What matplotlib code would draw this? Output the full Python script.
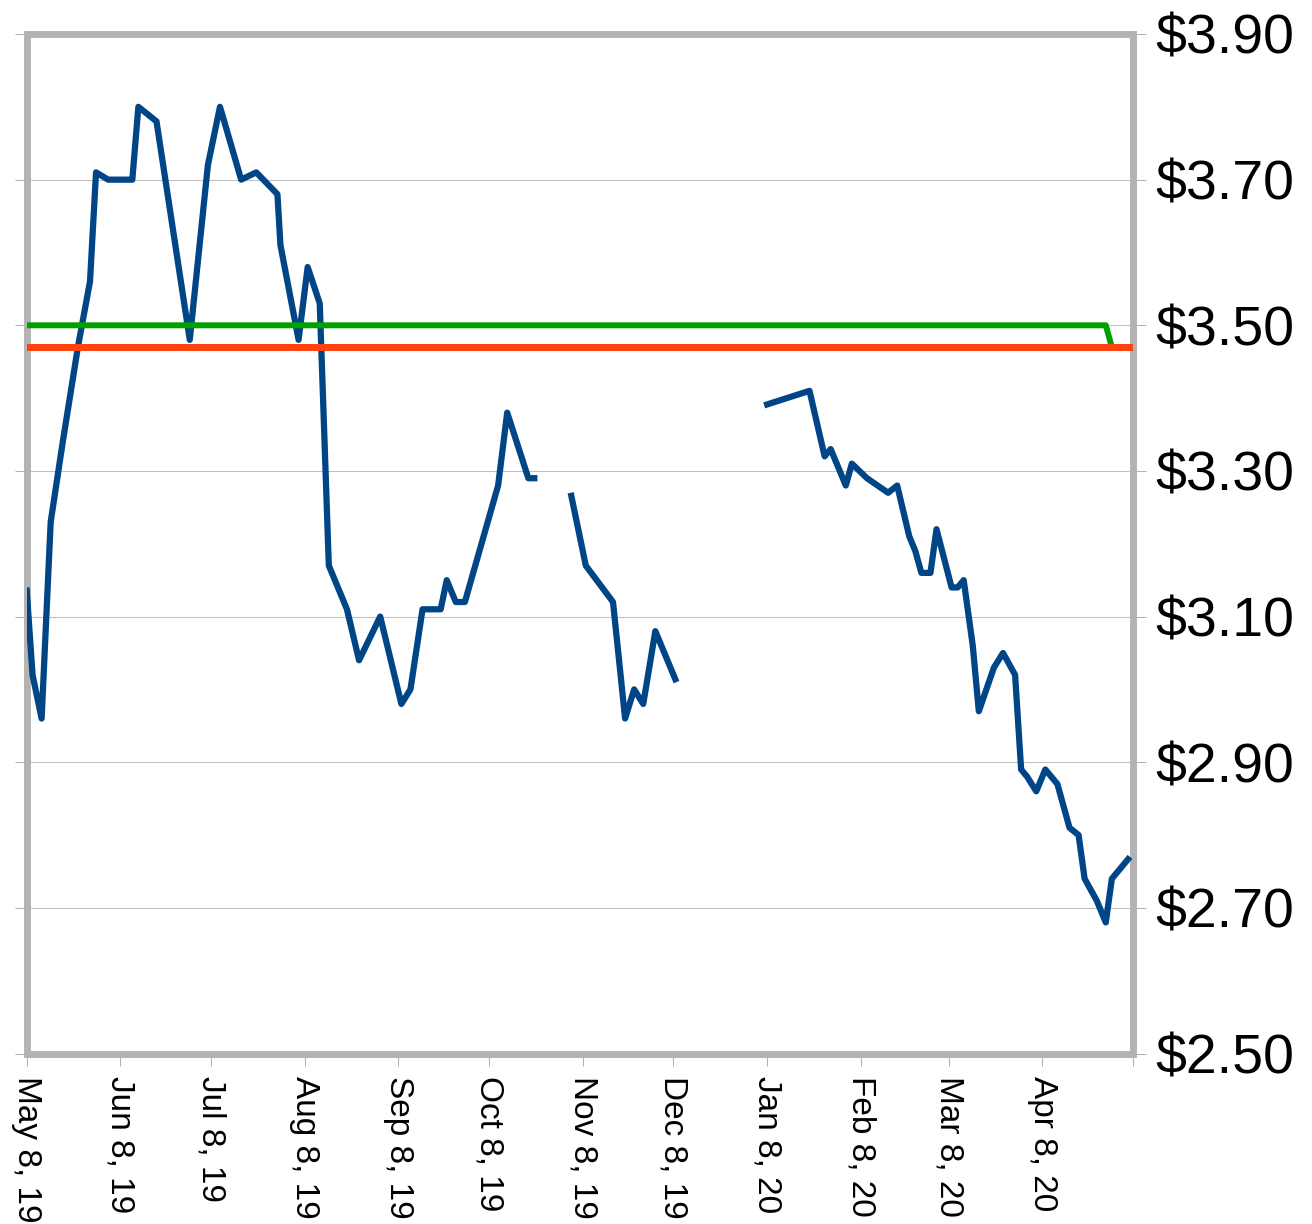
import matplotlib
matplotlib.use("Agg")
import matplotlib.pyplot as plt
from matplotlib.patches import Rectangle
import numpy as np
import pandas as pd

plt.rcParams['font.family'] = ['Liberation Sans', 'DejaVu Sans']

# ---------------- data ----------------
price_dates = [
    "2019-05-08", "2019-05-10", "2019-05-13", "2019-05-16", "2019-05-20", "2019-05-25",
    "2019-05-29", "2019-05-31", "2019-06-04", "2019-06-12", "2019-06-14", "2019-06-20",
    "2019-07-01", "2019-07-07", "2019-07-11", "2019-07-18", "2019-07-23", "2019-07-30",
    "2019-07-31", "2019-08-06", "2019-08-09", "2019-08-13", "2019-08-16", "2019-08-22",
    "2019-08-26", "2019-09-02", "2019-09-09", "2019-09-12", "2019-09-16", "2019-09-22",
    "2019-09-24", "2019-09-27", "2019-09-30", "2019-10-11", "2019-10-14", "2019-10-21",
    "2019-10-24", "2019-10-29", "2019-11-04", "2019-11-09", "2019-11-18", "2019-11-22",
    "2019-11-25", "2019-11-28", "2019-12-02", "2019-12-09", "2019-12-20", "2020-01-07",
    "2020-01-22", "2020-01-27", "2020-01-29", "2020-02-03", "2020-02-05", "2020-02-10",
    "2020-02-17", "2020-02-20", "2020-02-24", "2020-02-26", "2020-02-28", "2020-03-02",
    "2020-03-04", "2020-03-09", "2020-03-11", "2020-03-13", "2020-03-16", "2020-03-18",
    "2020-03-23", "2020-03-26", "2020-03-30", "2020-04-01", "2020-04-03", "2020-04-06",
    "2020-04-09", "2020-04-13", "2020-04-17", "2020-04-20", "2020-04-22", "2020-04-26",
    "2020-04-29", "2020-05-01", "2020-05-07",
]
price_values = [
    3.14, 3.02, 2.96, 3.23, 3.34, 3.47,
    3.56, 3.71, 3.70, 3.70, 3.80, 3.78,
    3.48, 3.72, 3.80, 3.70, 3.71, 3.68,
    3.61, 3.48, 3.58, 3.53, 3.17, 3.11,
    3.04, 3.10, 2.98, 3.00, 3.11, 3.11,
    3.15, 3.12, 3.12, 3.28, 3.38, 3.29,
    3.29, np.nan, 3.27, 3.17, 3.12, 2.96,
    3.00, 2.98, 3.08, 3.01, np.nan, 3.39,
    3.41, 3.32, 3.33, 3.28, 3.31, 3.29,
    3.27, 3.28, 3.21, 3.19, 3.16, 3.16,
    3.22, 3.14, 3.14, 3.15, 3.06, 2.97,
    3.03, 3.05, 3.02, 2.89, 2.88, 2.86,
    2.89, 2.87, 2.81, 2.80, 2.74, 2.71,
    2.68, 2.74, 2.77,
]

green_dates = ["2019-05-08", "2020-04-29", "2020-05-01", "2020-05-08"]
green_values = [3.50, 3.50, 3.47, 3.47]

orange_dates = ["2019-05-08", "2020-05-08"]
orange_values = [3.47, 3.47]

y_ticks = [2.50, 2.70, 2.90, 3.10, 3.30, 3.50, 3.70, 3.90]
y_tick_labels = [r"\$2.50", r"\$2.70", r"\$2.90", r"\$3.10", r"\$3.30", r"\$3.50", r"\$3.70", r"\$3.90"]

x_tick_dates = ["2019-05-08", "2019-06-08", "2019-07-08", "2019-08-08", "2019-09-08",
                "2019-10-08", "2019-11-08", "2019-12-08", "2020-01-08", "2020-02-08",
                "2020-03-08", "2020-04-08", "2020-05-08"]
x_tick_labels = ["May 8, 19", "Jun 8, 19", "Jul 8, 19", "Aug 8, 19", "Sep 8, 19",
                 "Oct 8, 19", "Nov 8, 19", "Dec 8, 19", "Jan 8, 20", "Feb 8, 20",
                 "Mar 8, 20", "Apr 8, 20", ""]

# ---------------- figure ----------------
W, H = 1312, 1224
fig = plt.figure(figsize=(W / 100, H / 100), dpi=100)
left, right, top, bottom = 26.5, 1133.0, 34.0, 1053.5
ax = fig.add_axes([left / W, 1 - bottom / H, (right - left) / W, (bottom - top) / H])

ax.plot(pd.to_datetime(price_dates), price_values, color='#004586', lw=4.5,
        solid_capstyle='butt', solid_joinstyle='round', zorder=3)
ax.plot(pd.to_datetime(green_dates), green_values, color='#00a000', lw=4.3,
        solid_capstyle='butt', zorder=4)
ax.plot(pd.to_datetime(orange_dates), orange_values, color='#ff420e', lw=5.0,
        solid_capstyle='round', zorder=5)

ax.set_xlim(pd.Timestamp("2019-05-08"), pd.Timestamp("2020-05-08"))
ax.set_ylim(2.5, 3.9)

ax.set_yticks(y_ticks)
ax.set_yticklabels(y_tick_labels)
ax.set_xticks(pd.to_datetime(x_tick_dates))
ax.set_xticklabels(x_tick_labels, rotation=270, ha='center', va='top')

ax.tick_params(axis='y', left=True, right=True, labelleft=False, labelright=True,
               length=9, width=0.75, color='#b3b3b3', labelsize=40, pad=7)
ax.tick_params(axis='x', length=8.5, width=0.75, color='#b3b3b3', labelsize=24, pad=8)

ax.yaxis.grid(True, color='#c0c0c0', lw=0.75)
ax.set_axisbelow(True)

for s in ax.spines.values():
    s.set_visible(False)
frame = Rectangle((0, 0), 1, 1, transform=ax.transAxes, fill=False,
                  ec='#b3b3b3', lw=5, joinstyle='miter', zorder=2.6, clip_on=False)
ax.add_patch(frame)

fig.savefig("out.png", dpi=100)
